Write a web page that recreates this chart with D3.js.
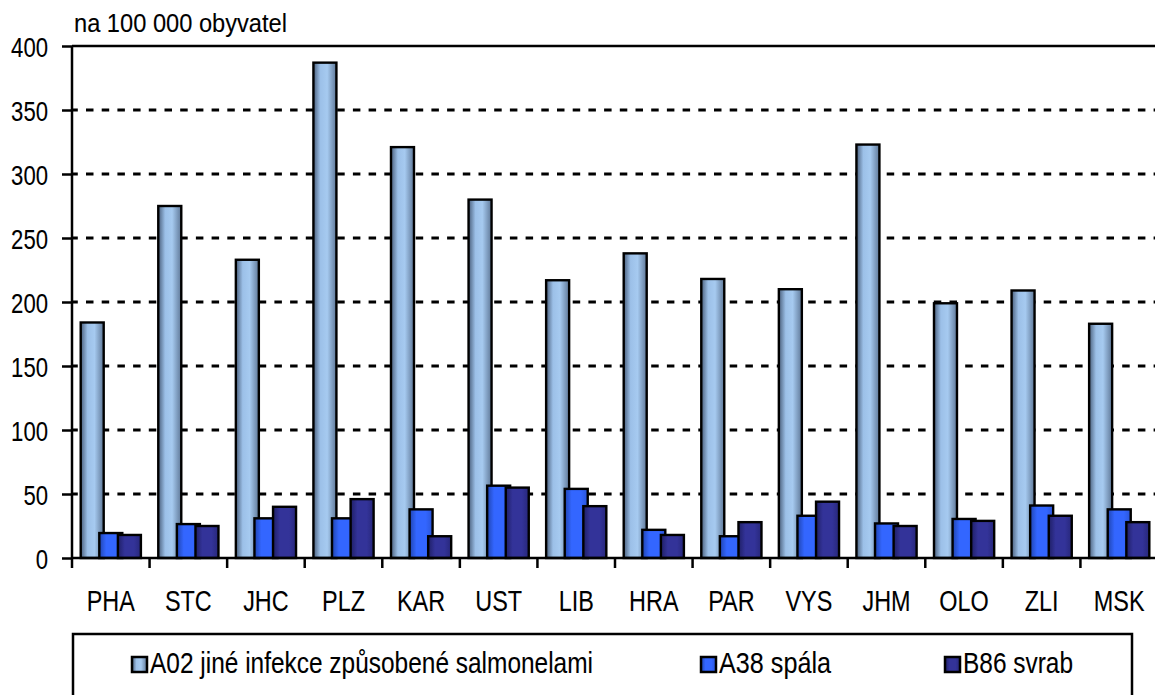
<!DOCTYPE html>
<html>
<head>
<meta charset="utf-8">
<script src="https://cdn.jsdelivr.net/npm/d3@7"></script>
<style>
  body { margin: 0; background: #fff; }
  svg text { font-family: "Liberation Sans Narrow", "Arial Narrow", "Liberation Sans", Arial, sans-serif; fill: #000; stroke: #000; stroke-width: 0.1px; }
</style>
</head>
<body>
<svg id="chart" width="1155" height="695"></svg>
<script>
// regions
const categories = ["PHA", "STC", "JHC", "PLZ", "KAR", "UST", "LIB", "HRA", "PAR", "VYS", "JHM", "OLO", "ZLI", "MSK"];
// rates per 100 000 inhabitants
const salmonella = [184, 275, 233, 387, 321, 280, 217, 238, 218, 210, 323, 199, 209, 183];
const scarlet = [19.5, 26.5, 31, 31, 38, 56.5, 54, 22, 17, 33, 27, 30.5, 41, 38];
const scabies = [18, 25, 40, 46, 17, 55, 40.5, 18, 28, 44, 25, 29, 33, 28];
const seriesNames = ["A02 jiné infekce způsobené salmonelami", "A38 spála", "B86 svrab"];
const yTicks = [0, 50, 100, 150, 200, 250, 300, 350, 400];

const svg = d3.select("#chart");
const margin = {left: 72, top: 46, right: 1158, bottom: 558};

const x = d3.scaleBand().domain(categories).range([margin.left, margin.right]).padding(0);
const y = d3.scaleLinear().domain([0, 400]).range([margin.bottom, margin.top]);

//Squeeze a text horizontally, like a narrow font
function squeeze(sel, k) {
	sel.each(function() {
		const w = this.getComputedTextLength();
		d3.select(this).attr("textLength", w * k).attr("lengthAdjust", "spacingAndGlyphs");
	});
}

//Gradients for the bars
const defs = svg.append("defs");
const grads = [
	{id: "g0", stops: [[0, "#4a5f7c"], [0.3, "#9cc0e8"], [0.6, "#a6caf0"], [1, "#5f7898"]]},
	{id: "g1", stops: [[0, "#1f44b0"], [0.3, "#3366ff"], [0.7, "#3366ff"], [1, "#2a55d8"]]},
	{id: "g2", stops: [[0, "#1f1f66"], [0.3, "#333399"], [0.7, "#333399"], [1, "#27277a"]]}
];
grads.forEach(g => {
	const lg = defs.append("linearGradient").attr("id", g.id)
		.attr("x1", "0%").attr("x2", "100%").attr("y1", "0%").attr("y2", "0%");
	g.stops.forEach(s => lg.append("stop").attr("offset", s[0]).attr("stop-color", s[1]));
});

//Gridlines
svg.append("g").selectAll("line").data(yTicks.filter(d => d > 0 && d < 400)).enter().append("line")
	.attr("x1", margin.left).attr("x2", 1155)
	.attr("y1", d => y(d)).attr("y2", d => y(d))
	.attr("stroke", "#000").attr("stroke-width", 3)
	.attr("stroke-dasharray", "7.5,8.2")
	.attr("stroke-dashoffset", 1.7);
svg.append("line")
	.attr("x1", margin.left).attr("x2", 1155)
	.attr("y1", y(400)).attr("y2", y(400))
	.attr("stroke", "#000").attr("stroke-width", 2.5);

//Bars
const barW = 23, step = 18.6, offset = 8.7;
const series = [salmonella, scarlet, scabies];
series.forEach((vals, s) => {
	svg.append("g").selectAll("rect").data(vals).enter().append("rect")
		.attr("x", (d, i) => x(categories[i]) + offset + s * step)
		.attr("y", d => y(d))
		.attr("width", barW)
		.attr("height", d => y(0) - y(d))
		.attr("fill", "url(#g" + s + ")")
		.attr("stroke", "#000")
		.attr("stroke-width", 2.4);
});

//Y axis
const yAxis = svg.append("g").attr("transform", "translate(" + margin.left + ",0)")
	.call(d3.axisLeft(y).tickValues(yTicks).tickSize(10).tickPadding(14));
yAxis.attr("font-family", null).attr("font-size", null);
yAxis.select(".domain").attr("stroke-width", 2.5).attr("d", "M0," + y(0) + "V" + y(400));
yAxis.selectAll(".tick line").attr("stroke-width", 2.5);
yAxis.selectAll("text").attr("dy", null).attr("y", 10).attr("x", -24)
	.style("font-size", "28px");
squeeze(yAxis.selectAll("text"), 0.79);

//X axis
const xAxis = svg.append("g").attr("transform", "translate(0," + margin.bottom + ")");
xAxis.append("line").attr("x1", margin.left).attr("x2", 1155)
	.attr("stroke", "#000").attr("stroke-width", 2.5);
xAxis.selectAll(".xt").data(categories).enter().append("line")
	.attr("x1", d => x(d)).attr("x2", d => x(d))
	.attr("y1", 0).attr("y2", 10)
	.attr("stroke", "#000").attr("stroke-width", 2.5);
const xLabels = xAxis.selectAll(".xl").data(categories).enter().append("text")
	.attr("x", d => x(d) + x.bandwidth() / 2)
	.attr("y", 53)
	.attr("text-anchor", "middle")
	.style("font-size", "30px")
	.text(d => d);
squeeze(xLabels, 0.78);

//Unit label
svg.append("text").attr("x", 74).attr("y", 32).style("font-size", "25px")
	.attr("textLength", 213).attr("lengthAdjust", "spacingAndGlyphs")
	.text("na 100 000 obyvatel");

//Legend
const legend = svg.append("g");
legend.append("rect").attr("x", 73).attr("y", 634).attr("width", 1059).attr("height", 80)
	.attr("fill", "#fff").attr("stroke", "#000").attr("stroke-width", 2.5);
const legendX = [150, 719, 963];
const legendW = [443, 112, 110];
seriesNames.forEach((name, s) => {
	legend.append("rect").attr("x", legendX[s] - 18).attr("y", 657).attr("width", 15).attr("height", 15)
		.attr("fill", "url(#g" + s + ")").attr("stroke", "#000").attr("stroke-width", 2.5);
	legend.append("text").attr("x", legendX[s]).attr("y", 673)
		.style("font-size", "30px")
		.attr("textLength", legendW[s]).attr("lengthAdjust", "spacingAndGlyphs")
		.text(name);
});
</script>
</body>
</html>
